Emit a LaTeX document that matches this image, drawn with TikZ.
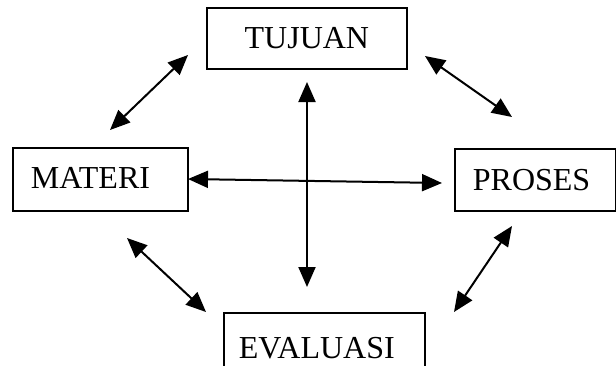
\documentclass[tikz,border=0pt]{standalone}
\usepackage{fontspec}
\setmainfont{Liberation Serif}
\usetikzlibrary{arrows.meta}
\begin{document}
\begin{tikzpicture}[x=1pt,y=-1pt,
  box/.style={draw,line width=1.8pt,anchor=north west,inner ysep=0pt,align=left,font=\fontsize{32}{36}\selectfont},
  link/.style={line width=2pt,{Triangle[length=20pt,width=17pt]}-{Triangle[length=20pt,width=17pt]}}]
\useasboundingbox (0,0) rectangle (616,365);
\clip (0,0) rectangle (616,365);
\node[box,minimum width=200pt,minimum height=61pt,inner xsep=0pt,align=center,text width=200pt] (tujuan) at (206,7) {TUJUAN};
\node[box,minimum height=63pt,inner xsep=18pt,text width=139pt] (materi) at (12,147) {\raisebox{3pt}{MATERI}};
\node[box,minimum height=62pt,inner xsep=18pt,text width=125pt] (proses) at (454,148) {\raisebox{1pt}{PROSES}};
\node[box,minimum height=70pt,inner xsep=15pt,text width=171pt,anchor=north west] (evaluasi) at (223,312) {\raisebox{-11pt}{EVALUASI}};
\coordinate (a1) at (110,130); \coordinate (a2) at (188,55);
\coordinate (b1) at (425,56);  \coordinate (b2) at (512,117);
\coordinate (c1) at (127,238); \coordinate (c2) at (206,312);
\coordinate (d1) at (512,226); \coordinate (d2) at (454,312);
\coordinate (v1) at (307,82);  \coordinate (v2) at (307,287);
\coordinate (h1) at (188,179); \coordinate (h2) at (442,183);
\draw[link] (a1) -- (a2);
\draw[link] (b1) -- (b2);
\draw[link] (c1) -- (c2);
\draw[link] (d1) -- (d2);
\draw[link] (v1) -- (v2);
\draw[link] (h1) -- (h2);
\end{tikzpicture}
\end{document}
